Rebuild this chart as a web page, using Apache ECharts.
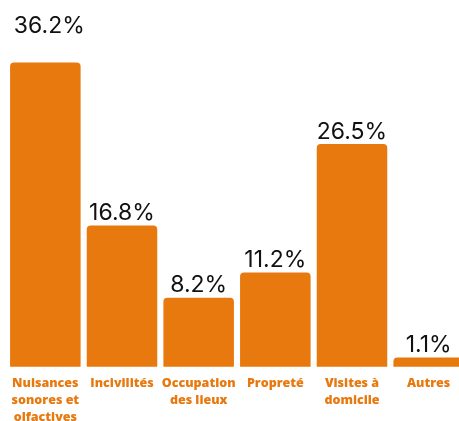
<!DOCTYPE html>
<html>
<head>
<meta charset="utf-8">
<script src="https://cdn.jsdelivr.net/npm/echarts@6/dist/echarts.min.js"></script>
<style>
  html, body { margin: 0; padding: 0; background: #ffffff; }
  #chart { width: 459px; height: 421px; }
</style>
</head>
<body>
<div id="chart"></div>
<script>
// Motifs des signalements (part en %)
const categories = [
  'Nuisances\nsonores et\nolfactives',
  'Incivilités',
  'Occupation\ndes lieux',
  'Propreté',
  'Visites à\ndomicile',
  'Autres'
];
const values = [36.2, 16.8, 8.2, 11.2, 26.5, 1.1];

const barColor = '#E8790F';

const chart = echarts.init(document.getElementById('chart'), null, { renderer: 'canvas' });

const seriesData = values.map((v, i) => {
  const item = { value: v };
  // the tallest bar keeps its label higher up
  if (i === 0) item.label = { offset: [4, -24] };
  return item;
});

chart.setOption({
  animation: false,
  grid: {
    left: 7, width: 460, top: 30.7, height: 336,
    containLabel: false,
    outerBoundsMode: 'none'
  },
  xAxis: {
    type: 'category',
    data: categories,
    axisLine: { show: false },
    axisTick: { show: false },
    axisLabel: {
      interval: 0,
      margin: 8,
      color: barColor,
      fontFamily: 'Open Sans',
      fontWeight: 800,
      fontSize: 12.5,
      lineHeight: 17.2,
      align: 'center'
    }
  },
  yAxis: {
    type: 'value',
    min: 0,
    max: 40,
    show: false
  },
  series: [{
    type: 'bar',
    data: seriesData,
    barCategoryGap: '8%',
    itemStyle: { color: barColor, borderRadius: [4, 4, 0, 0] },
    label: {
      show: true,
      position: 'top',
      distance: 1,
      color: '#111111',
      fontFamily: 'Inter',
      fontSize: 23,
      formatter: p => p.value.toFixed(1) + '%'
    }
  }]
});
</script>
</body>
</html>
